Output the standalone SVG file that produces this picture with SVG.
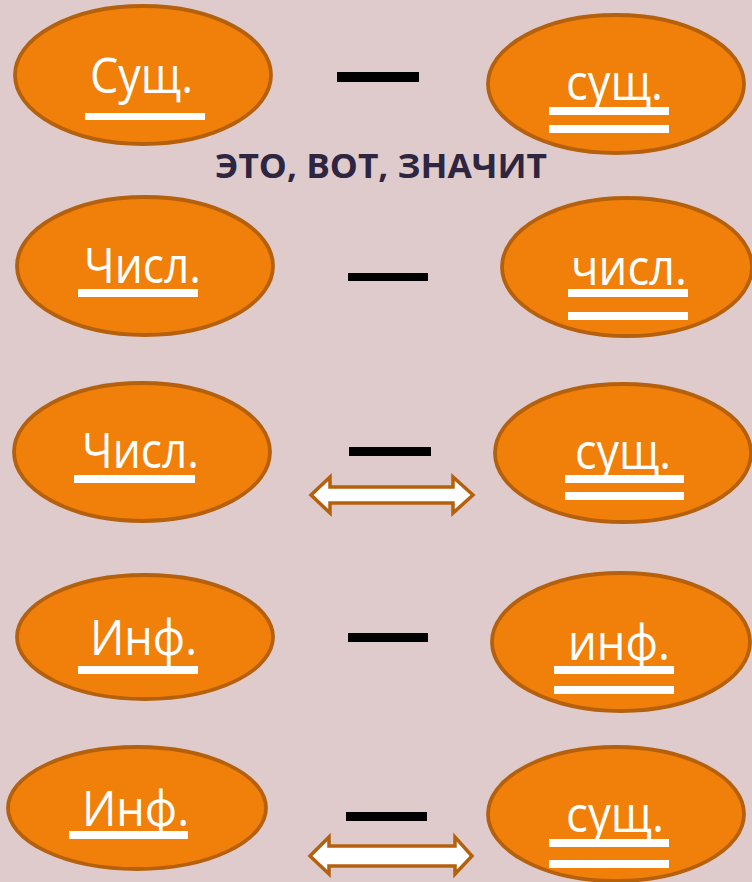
<svg xmlns="http://www.w3.org/2000/svg" width="752" height="882" viewBox="0 0 752 882">
<style>
.node ellipse{fill:#f0800a;stroke:#b5600c;stroke-width:3.8}
.lbl{font-family:"Open Sans","Liberation Sans",sans-serif;font-size:49px;fill:#ffffff}
.ul{fill:#ffffff}
.dash{fill:#000000}
.arr{fill:#ffffff;stroke:#b5600c;stroke-width:3.5;stroke-linejoin:miter}
.hdr{font-family:"Open Sans","Liberation Sans",sans-serif;font-weight:bold;font-size:34px;fill:#2e2540}
</style>
<rect width="752" height="882" fill="#dfcbcc"/>

<g id="n1" class="node">
<ellipse cx="143" cy="75" rx="128" ry="69"/>
<text class="lbl" x="90" y="93" textLength="103" lengthAdjust="spacingAndGlyphs">Сущ.</text>
<rect class="ul" x="85" y="113" width="120" height="7"/>
</g>
<g id="n2" class="node">
<ellipse cx="616" cy="84" rx="128" ry="69"/>
<text class="lbl" x="566" y="100" textLength="97" lengthAdjust="spacingAndGlyphs">сущ.</text>
<rect class="ul" x="549" y="107" width="120" height="8"/>
<rect class="ul" x="549" y="125" width="120" height="8"/>
</g>

<g id="header">
<text class="hdr" x="215" y="178" textLength="332" lengthAdjust="spacingAndGlyphs">ЭТО, ВОТ, ЗНАЧИТ</text>
</g>

<g id="n3" class="node">
<ellipse cx="145" cy="266" rx="128" ry="69"/>
<text class="lbl" x="84" y="283" textLength="117" lengthAdjust="spacingAndGlyphs">Числ.</text>
<rect class="ul" x="78" y="289" width="120" height="8"/>
</g>
<g id="n4" class="node">
<ellipse cx="627" cy="267" rx="125" ry="69"/>
<text class="lbl" x="571" y="285" textLength="116" lengthAdjust="spacingAndGlyphs">числ.</text>
<rect class="ul" x="568" y="289" width="120" height="8"/>
<rect class="ul" x="568" y="312" width="120" height="8"/>
</g>

<g id="n5" class="node">
<ellipse cx="142" cy="452" rx="128" ry="69"/>
<text class="lbl" x="82" y="468" textLength="117" lengthAdjust="spacingAndGlyphs">Числ.</text>
<rect class="ul" x="74" y="475" width="121" height="8"/>
</g>
<g id="n6" class="node">
<ellipse cx="623" cy="453" rx="128" ry="69"/>
<text class="lbl" x="575" y="469" textLength="96" lengthAdjust="spacingAndGlyphs">сущ.</text>
<rect class="ul" x="565" y="475" width="119" height="8"/>
<rect class="ul" x="565" y="492" width="119" height="8"/>
</g>

<g id="n7" class="node">
<ellipse cx="145" cy="637" rx="128" ry="62"/>
<text class="lbl" x="90" y="655" textLength="107" lengthAdjust="spacingAndGlyphs">Инф.</text>
<rect class="ul" x="78" y="666" width="120" height="8"/>
</g>
<g id="n8" class="node">
<ellipse cx="621" cy="642" rx="129" ry="69"/>
<text class="lbl" x="568" y="660" textLength="102" lengthAdjust="spacingAndGlyphs">инф.</text>
<rect class="ul" x="554" y="666" width="120" height="8"/>
<rect class="ul" x="554" y="686" width="120" height="8"/>
</g>

<g id="n9" class="node">
<ellipse cx="137" cy="808" rx="129" ry="61"/>
<text class="lbl" x="82" y="826" textLength="107" lengthAdjust="spacingAndGlyphs">Инф.</text>
<rect class="ul" x="69" y="831" width="119" height="8"/>
</g>
<g id="n10" class="node">
<ellipse cx="616" cy="814" rx="128" ry="67"/>
<text class="lbl" x="566" y="832" textLength="98" lengthAdjust="spacingAndGlyphs">сущ.</text>
<rect class="ul" x="549" y="839" width="120" height="8"/>
<rect class="ul" x="549" y="860" width="120" height="8"/>
</g>

<g id="connectors">
<rect class="dash" x="337" y="72" width="82" height="10"/>
<rect class="dash" x="348" y="273" width="80" height="8"/>
<rect class="dash" x="349" y="447" width="82" height="9"/>
<path class="arr" d="M311,495 L330,477 L330,487 L453,487 L453,477 L473,495 L453,513 L453,503 L330,503 L330,513 Z"/>
<rect class="dash" x="348" y="633" width="80" height="9"/>
<rect class="dash" x="346" y="812" width="81" height="9"/>
<path class="arr" d="M310,856 L329,837 L329,846 L455,846 L455,837 L472,856 L455,874 L455,866 L329,866 L329,874 Z"/>
</g>
</svg>
